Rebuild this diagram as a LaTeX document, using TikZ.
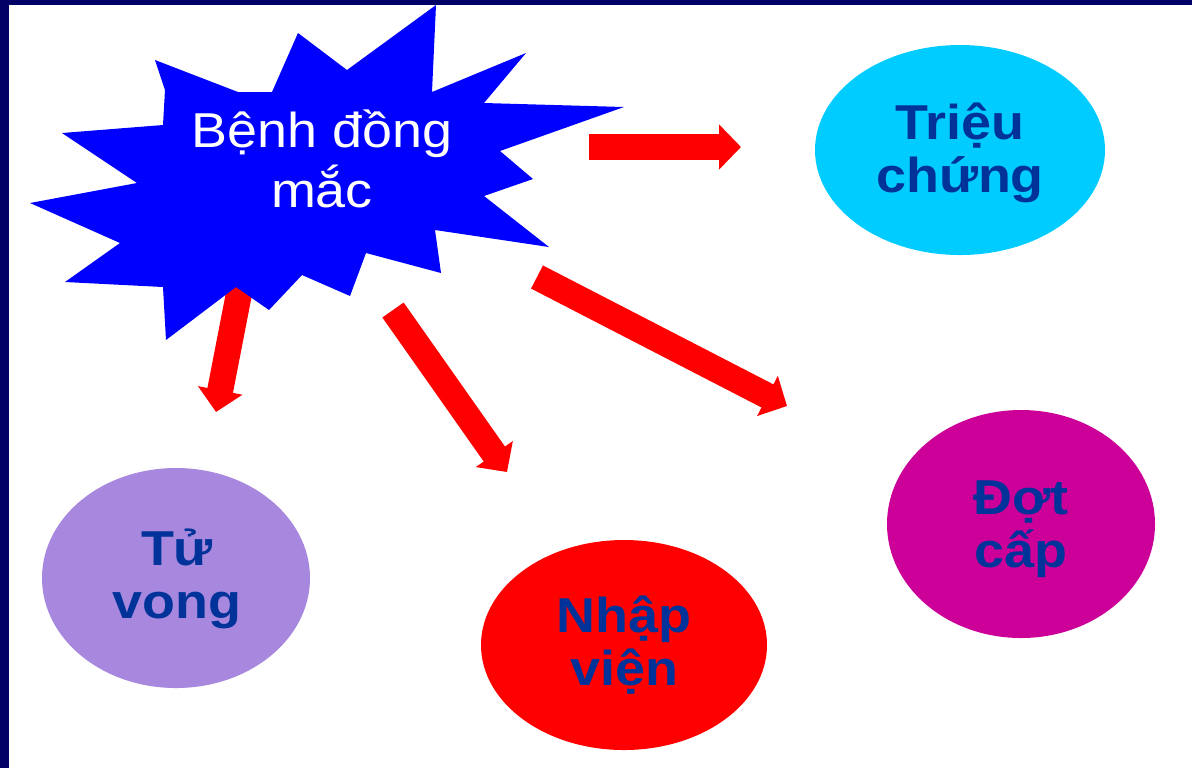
\documentclass[tikz,border=0pt]{standalone}
\usepackage{fontspec}
\setmainfont{Liberation Sans}[FakeStretch=1.1]
\usetikzlibrary{shapes.geometric,arrows.meta}

\definecolor{framenavy}{RGB}{0,0,102}
\definecolor{burstblue}{RGB}{0,0,255}
\definecolor{arrowred}{RGB}{255,0,0}
\definecolor{skyfill}{RGB}{0,204,255}
\definecolor{lavfill}{RGB}{167,136,222}
\definecolor{redfill}{RGB}{255,0,0}
\definecolor{magfill}{RGB}{204,0,153}
\definecolor{labelblue}{RGB}{0,51,153}

% keep line spacing fixed even with stacked accents
\newcommand{\fixedlines}{\lineskiplimit=-50pt\relax}

\begin{document}
\begin{tikzpicture}[x=0.5pt,y=-0.5pt,
  blockarrow/.style={draw=arrowred, line width=13pt,
    -{Triangle[width=22pt,length=11pt]}},
  bubble/.style={ellipse, inner sep=0pt, draw=none},
  % labels are placed by the baseline of their last line
  bursttext/.style={text=white, align=center, inner sep=0pt, anchor=base,
    font=\fontsize{24.5}{30}\selectfont\fixedlines},
  bubbletext/.style={text=labelblue, align=center, inner sep=0pt, anchor=base,
    font=\fontsize{24.5}{26.5}\selectfont\bfseries\fixedlines}]

% frame and page
\useasboundingbox (0,0) rectangle (1192,768);
\fill[framenavy] (0,0) rectangle (1192,768);
\fill[white] (9,5) rectangle (1192,768);

% arrow end points
\coordinate (a1s) at (589,147);
\coordinate (a1e) at (741,147);
\coordinate (a2s) at (242,278);
\coordinate (a2e) at (216,412);
\coordinate (a3s) at (393,310);
\coordinate (a3e) at (507,472);
\coordinate (a4s) at (537,277);
\coordinate (a4e) at (787,406);

% block arrows (drawn under the burst)
\draw[blockarrow] (a1s) -- (a1e);
\draw[blockarrow] (a2s) -- (a2e);
\draw[blockarrow] (a3s) -- (a3e);
\draw[blockarrow] (a4s) -- (a4e);

% the burst
\fill[burstblue] (436,5) -- (432,92) -- (526,53) -- (484,103) -- (624,107)
  -- (500,151) -- (533,179) -- (484,196) -- (549,247) -- (435,230)
  -- (441,273) -- (366,253) -- (350,296) -- (302,275) -- (269,310)
  -- (236,287) -- (166,340) -- (163,287) -- (65,282) -- (120,243)
  -- (30,203) -- (137,183) -- (62,133) -- (163,125) -- (165,90)
  -- (155,60) -- (238,92) -- (272,92) -- (298,33) -- (347,70) -- cycle;
\node[bursttext] (comorb) at (322,207) {Bệnh đồng\\mắc};

% outcome bubbles
\node[bubble, fill=skyfill, minimum width=145pt, minimum height=105pt] (sympt) at (960,150) {};
\node[bubble, fill=lavfill, minimum width=134pt, minimum height=110pt] (death) at (176,578) {};
\node[bubble, fill=redfill, minimum width=143pt, minimum height=105pt] (hosp) at (624,645) {};
\node[bubble, fill=magfill, minimum width=134pt, minimum height=114pt] (exac) at (1021,524) {};

\node[bubbletext] (symptlbl) at (960,192) {Triệu\\chứng};
\node[bubbletext] (deathlbl) at (177,618) {Tử\\vong};
\node[bubbletext] (hosplbl) at (624,685) {Nhập\\viện};
\node[bubbletext] (exaclbl) at (1021,567) {Đợt\\cấp};
\end{tikzpicture}
\end{document}
